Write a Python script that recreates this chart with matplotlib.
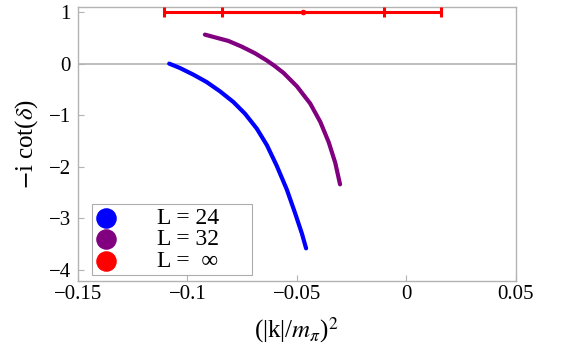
import numpy as np
import matplotlib
matplotlib.use("Agg")
import matplotlib.pyplot as plt

plt.rcParams["font.family"] = ["Liberation Serif", "DejaVu Serif"]
plt.rcParams["mathtext.fontset"] = "stix"

# curves: x = (|k|/m_pi)^2, y = -i cot(delta)
k2_L24 = [-0.1083, -0.1034, -0.0973, -0.0912, -0.0851, -0.0790, -0.0737,
          -0.0683, -0.0637, -0.0592, -0.0546, -0.0508, -0.0477, -0.0458]
cot_L24 = [0.0, -0.085, -0.213, -0.357, -0.537, -0.744, -0.97,
           -1.26, -1.58, -1.98, -2.44, -2.90, -3.295, -3.58]

k2_L32 = [-0.0920, -0.0813, -0.0752, -0.0691, -0.0637, -0.0600, -0.0561,
          -0.0500, -0.0439, -0.0393, -0.0355, -0.0325, -0.0303]
cot_L32 = [0.562, 0.44, 0.33, 0.20, 0.06, -0.05, -0.18,
           -0.44, -0.775, -1.13, -1.52, -1.92, -2.34]

# infinite volume point with inner and outer error
k2_inf = -0.0473
cot_inf = 1.0
err_inner = 0.0369
err_outer = 0.0632

legend_labels = ["L = 24     ", "L = 32     ", "L =  \u221e     "]
xticks = [-0.15, -0.1, -0.05, 0, 0.05]
xtick_labels = ["\u22120.15", "\u22120.1", "\u22120.05", "0", "0.05"]
yticks = [1, 0, -1, -2, -3, -4]
ytick_labels = ["1", "0", "\u22121", "\u22122", "\u22123", "\u22124"]

fig = plt.figure(figsize=(5.81, 3.61), dpi=100)
ax = fig.add_axes([0.134, 0.222, 0.754, 0.759])

gray = "#b3b3b3"
ax.axhline(0, color=gray, lw=1.2, zorder=1)

ax.plot(k2_L24, cot_L24, color="blue", lw=3.0, solid_capstyle="round",
        solid_joinstyle="round", zorder=3)
ax.plot(k2_L32, cot_L32, color="purple", lw=3.0, solid_capstyle="round",
        solid_joinstyle="round", zorder=3)

ax.errorbar([k2_inf], [cot_inf], xerr=[err_outer], color="red", lw=2.2,
            capsize=3.5, capthick=2.2, fmt="none", zorder=4)
ax.errorbar([k2_inf], [cot_inf], xerr=[err_inner], color="red", lw=2.2,
            capsize=3.5, capthick=2.2, fmt="o", ms=3, zorder=4)

# legend proxies
for c, lab in zip(["blue", "purple", "red"], legend_labels):
    ax.scatter([], [], s=190, color=c, label=lab)
leg = ax.legend(loc="lower left", bbox_to_anchor=(0.032, 0.02), fontsize=17,
                frameon=True, fancybox=False, handletextpad=1.7,
                labelspacing=0.0, borderpad=0.15, borderaxespad=0,
                handlelength=0.9)
leg.get_frame().set_edgecolor("#999999")
leg.get_frame().set_linewidth(0.8)

ax.set_xlim(-0.15, 0.05)
ax.set_ylim(-4.21, 1.1)
ax.set_xticks(xticks)
ax.set_xticklabels(xtick_labels)
ax.set_yticks(yticks)
ax.set_yticklabels(ytick_labels)
ax.tick_params(direction="in", length=4, width=0.8, color=gray,
               labelsize=15, top=False, right=False)
ax.tick_params(axis="y", pad=5)
ax.tick_params(axis="x", pad=3)
for s in ax.spines.values():
    s.set_color(gray)
    s.set_linewidth(1.0)

ax.set_xlabel(r"(|k|/$m_{\pi}$)$^2$", fontsize=18, labelpad=8)
ax.set_ylabel(r"$-$i cot($\delta$)", fontsize=18, labelpad=6)

fig.savefig("out.png", dpi=100)
